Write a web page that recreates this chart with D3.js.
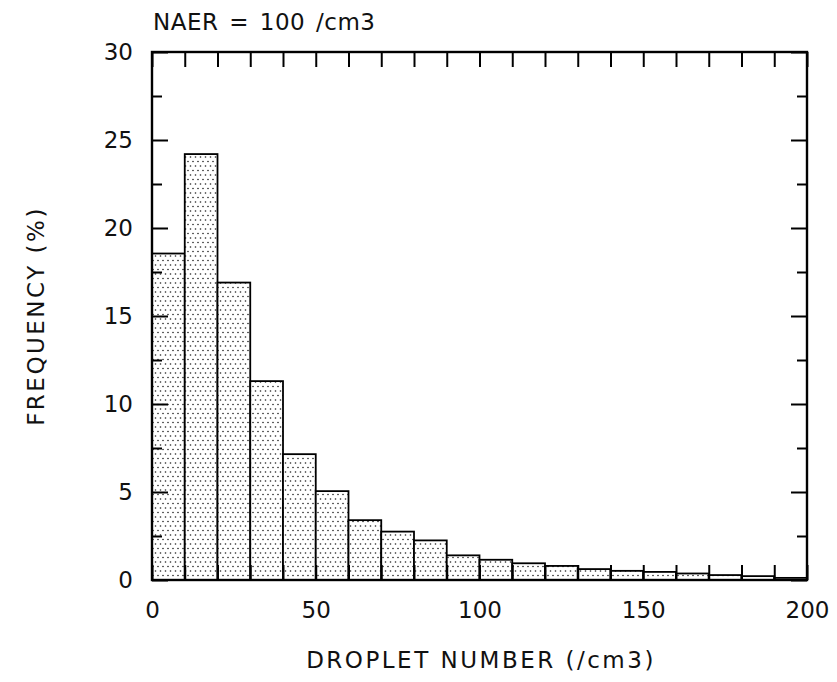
<!DOCTYPE html>
<html>
<head>
<meta charset="utf-8">
<script src="https://cdn.jsdelivr.net/npm/d3@7"></script>
<style>
  body { margin: 0; background: #fff; }
  text { font-family: "DejaVu Sans", sans-serif; fill: #111; }
</style>
</head>
<body>
<div id="chart"></div>
<script>

// bin edges (/cm3) and frequencies (%)
var binStart = [0, 10, 20, 30, 40, 50, 60, 70, 80, 90, 100, 110, 120, 130, 140, 150, 160, 170, 180, 190];
var binWidth = 10;
var freq = [18.55, 24.2, 16.9, 11.3, 7.15, 5.05, 3.4, 2.75, 2.25, 1.4, 1.15, 0.95, 0.8, 0.62, 0.52, 0.46, 0.37, 0.28, 0.22, 0.12];

var xMajor = [0, 50, 100, 150, 200];
var yMajor = [0, 5, 10, 15, 20, 25, 30];
var yMinor = [2.5, 7.5, 12.5, 17.5, 22.5, 27.5];
var xTicks = d3.range(0, 201, 10);

var width = 837, height = 682;
var margin = { top: 52, right: 30, bottom: 102, left: 152 };
var w = width - margin.left - margin.right;
var h = height - margin.top - margin.bottom;
var fontSize = 23;

var svg = d3.select('#chart')
			.append('svg')
			.attr('width', width)
			.attr('height', height);

// dotted fill like the printed original
var pat = svg.append('defs').append('pattern')
			.attr('id', 'dots')
			.attr('patternUnits', 'userSpaceOnUse')
			.attr('width', 5)
			.attr('height', 9);
pat.append('rect').attr('width', 5).attr('height', 9).attr('fill', '#fff');
pat.append('circle').attr('cx', 1).attr('cy', 1.5).attr('r', 0.8).attr('fill', '#222');
pat.append('circle').attr('cx', 3.5).attr('cy', 6).attr('r', 0.8).attr('fill', '#222');

var g = svg.append('g')
		   .attr('transform', 'translate(' + margin.left + ',' + margin.top + ')');

var x = d3.scaleLinear().domain([0, 200]).range([0, w]);
var y = d3.scaleLinear().domain([0, 30]).range([h, 0]);

g.selectAll('rect.bar')
 .data(freq)
 .enter()
 .append('rect')
 .attr('class', 'bar')
 .attr('x', function(d, i) { return x(binStart[i]); })
 .attr('width', function(d, i) { return x(binStart[i] + binWidth) - x(binStart[i]); })
 .attr('y', function(d) { return y(d); })
 .attr('height', function(d) { return y(0) - y(d); })
 .attr('fill', 'url(#dots)')
 .attr('stroke', '#000')
 .attr('stroke-width', 1.8);

function styleAxis(sel) {
	sel.select('.domain').remove();
	sel.selectAll('line').attr('stroke', '#000').attr('stroke-width', 2);
	sel.selectAll('text').attr('font-size', fontSize).style('font-family', '"DejaVu Sans", sans-serif');
}

// left axis
g.append('g')
 .call(d3.axisLeft(y).tickValues(yMajor).tickSizeInner(-16).tickSizeOuter(0).tickPadding(19))
 .call(styleAxis);
g.append('g')
 .call(d3.axisLeft(y).tickValues(yMinor).tickSizeInner(-10).tickSizeOuter(0).tickFormat(''))
 .call(styleAxis);

// right axis
g.append('g')
 .attr('transform', 'translate(' + w + ',0)')
 .call(d3.axisRight(y).tickValues(yMajor).tickSizeInner(-16).tickSizeOuter(0).tickFormat(''))
 .call(styleAxis);
g.append('g')
 .attr('transform', 'translate(' + w + ',0)')
 .call(d3.axisRight(y).tickValues(yMinor).tickSizeInner(-10).tickSizeOuter(0).tickFormat(''))
 .call(styleAxis);

// top axis
g.append('g')
 .call(d3.axisTop(x).tickValues(xTicks).tickSizeInner(-15).tickSizeOuter(0).tickFormat(''))
 .call(styleAxis);

// bottom axis
g.append('g')
 .attr('transform', 'translate(0,' + h + ')')
 .call(d3.axisBottom(x).tickValues(xTicks).tickSizeInner(-15).tickSizeOuter(0)
		.tickFormat(function(d) { return xMajor.indexOf(d) >= 0 ? d : ''; }).tickPadding(22))
 .call(styleAxis);

// frame
g.append('rect')
 .attr('width', w)
 .attr('height', h)
 .attr('fill', 'none')
 .attr('stroke', '#000')
 .attr('stroke-width', 2.4);

// titles
svg.append('text')
   .attr('x', margin.left + 1)
   .attr('y', 30)
   .attr('font-size', fontSize)
   .attr('letter-spacing', 0.5)
   .attr('word-spacing', 3)
   .text('NAER = 100 /cm3');

svg.append('text')
   .attr('x', 481)
   .attr('y', 668)
   .attr('text-anchor', 'middle')
   .attr('font-size', fontSize)
   .attr('letter-spacing', 2.5)
   .text('DROPLET NUMBER (/cm3)');

svg.append('text')
   .attr('transform', 'translate(44,' + (margin.top + h / 2) + ') rotate(-90)')
   .attr('text-anchor', 'middle')
   .attr('font-size', fontSize)
   .attr('letter-spacing', 2.5)
   .text('FREQUENCY (%)');

</script>
</body>
</html>
